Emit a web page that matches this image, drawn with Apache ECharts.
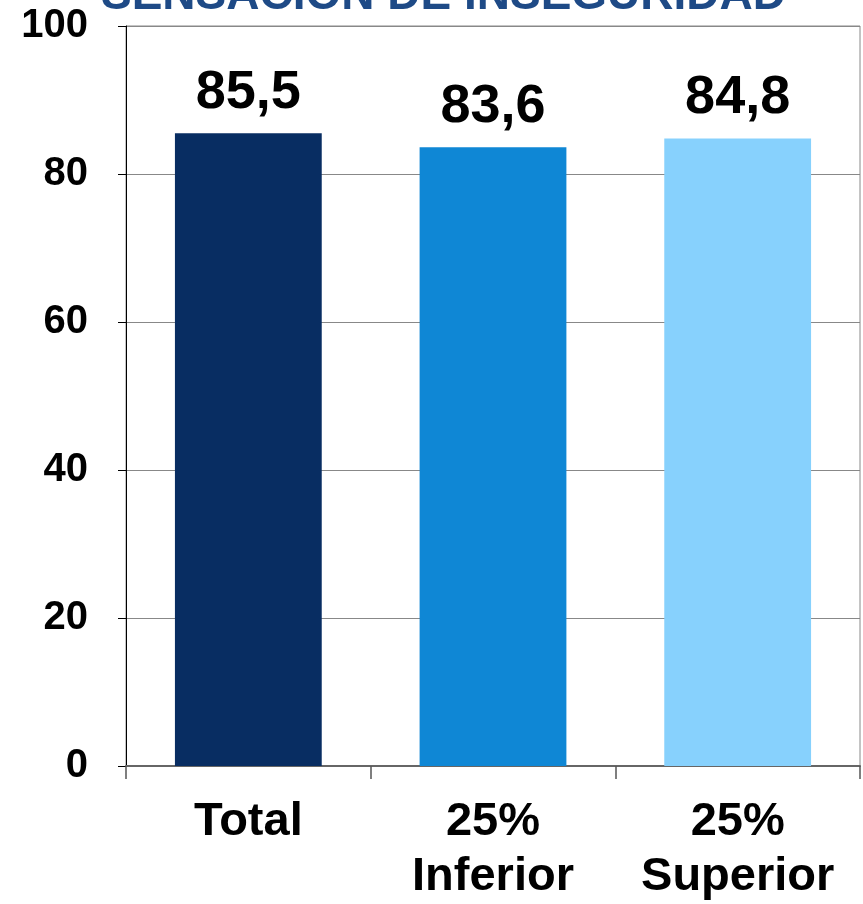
<!DOCTYPE html>
<html><head><meta charset="utf-8">
<script src="https://cdn.jsdelivr.net/npm/echarts@6/dist/echarts.min.js"></script>
<style>html,body{margin:0;padding:0;background:#fff}#c{width:863px;height:904px}</style>
</head><body><div id="c"></div>
<script>
const titleText = 'SENSACIÓN DE INSEGURIDAD';
const categories = ['Total', '25%\nInferior', '25%\nSuperior'];
const values = [85.5, 83.6, 84.8];
const barColors = ['#082D62', '#0F87D5', '#87D1FD'];
const yTicks = [0, 20, 40, 60, 80, 100];

const FONT = 'Liberation Sans, Arial, sans-serif';
const chart = echarts.init(document.getElementById('c'));
chart.setOption({
  animation: false,
  title: {
    text: titleText, left: 101, top: -27, padding: 0,
    textStyle: { fontFamily: FONT, fontWeight: 'bold', fontSize: 46, color: '#1E4A86' }
  },
  grid: { left: 126, right: 3, top: 26, bottom: 138, show: true, borderColor: '#888', borderWidth: 1, outerBoundsMode: 'none', containLabel: false },
  xAxis: {
    type: 'category', data: categories,
    axisLine: { lineStyle: { color: '#666', width: 2 } },
    axisTick: { show: true, interval: 0, length: 13, lineStyle: { color: '#555', width: 1.5 } },
    axisLabel: { interval: 0, hideOverlap: false, margin: 29, color: '#000', fontFamily: FONT, fontWeight: 'bold', fontSize: 47, lineHeight: 55 }
  },
  yAxis: {
    type: 'value', min: yTicks[0], max: yTicks[yTicks.length - 1], interval: 20,
    axisLine: { show: true, lineStyle: { color: '#000', width: 1 } },
    axisTick: { show: true, length: 8, lineStyle: { color: '#000' } },
    axisLabel: { margin: 38, color: '#000', fontFamily: FONT, fontWeight: 'bold', fontSize: 40 },
    splitLine: { show: true, lineStyle: { color: '#888', width: 1 } }
  },
  series: [{
    type: 'bar', barWidth: '60%',
    data: values.map((v, i) => ({ value: v, itemStyle: { color: barColors[i] } })),
    label: {
      show: true, position: 'top', distance: 13, color: '#000',
      fontFamily: FONT, fontWeight: 'bold', fontSize: 54,
      formatter: p => String(p.value).replace('.', ',')
    }
  }]
});
</script></body></html>
